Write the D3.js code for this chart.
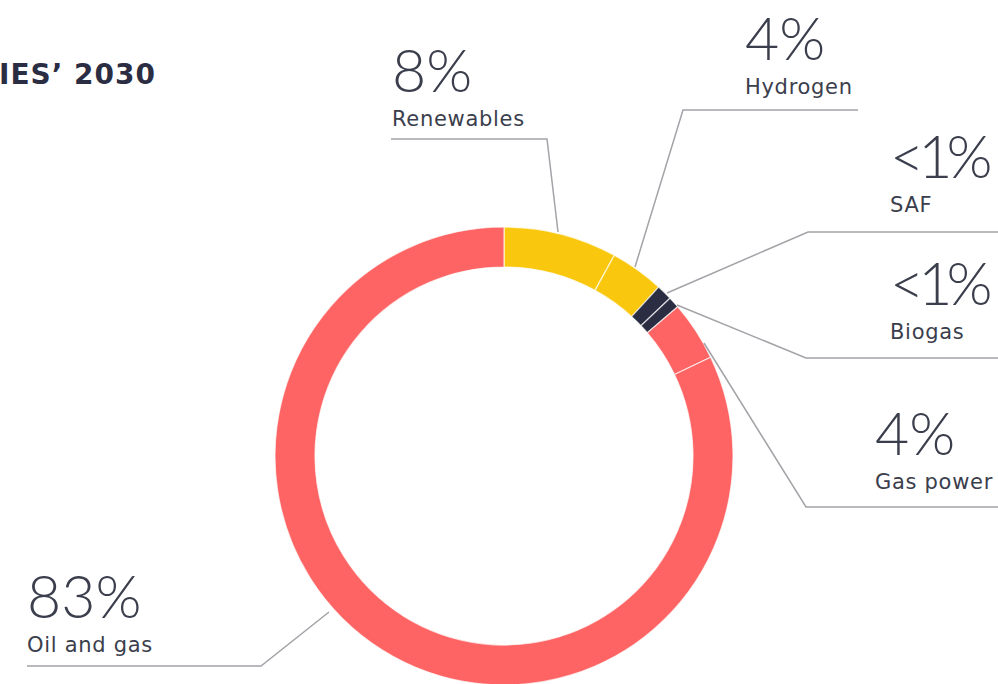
<!DOCTYPE html>
<meta charset="utf-8">
<style>
  body { margin: 0; background: #fff; }
  svg { display: block; }
  text { fill: #3b3e4c; }
  .num { font-family: "Lato", "Noto Sans", sans-serif; }
  .cat { font-family: "DejaVu Sans", sans-serif; }
</style>
<svg width="998" height="684"></svg>
<script src="https://d3js.org/d3.v7.min.js"></script>
<script>

var categories = ["Renewables", "Hydrogen", "SAF", "Biogas", "Gas power", "Oil and gas"],
    shares = [8, 3.8, 1.1, 0.8, 4.2, 82.1],
    pctLabels = ["8%", "4%", "<1%", "<1%", "4%", "83%"],
    colors = ["#f9c80e", "#f9c80e", "#2b2d42", "#2b2d42", "#ff6464", "#ff6464"];

// label anchor (left x, number baseline) and leader polyline for each slice
var labelPos = [[392, 92], [745, 60], [890, 178], [890, 305], [875, 455], [27, 618]];
var leaders = [
  [[391, 139], [547, 139], [558, 232]],
  [[858, 110], [683, 110], [635, 267]],
  [[998, 232], [808, 232], [667, 293]],
  [[998, 358], [806, 358], [677, 305]],
  [[998, 507], [806, 507], [704, 343]],
  [[27, 666], [261, 666], [329, 612]]
];

var svg = d3.select("svg"),
    cx = 504, cy = 456,
    outer = 229, inner = 189;

var pie = d3.pie().sort(null).value(function(d) { return d; });
var arc = d3.arc().innerRadius(inner).outerRadius(outer);

var g = svg.append("g").attr("transform", "translate(" + cx + "," + cy + ")");

g.selectAll("path")
    .data(pie(shares))
  .enter().append("path")
    .attr("d", arc)
    .attr("fill", function(d, i) { return colors[i]; })
    .attr("stroke", "#fff")
    .attr("stroke-opacity", 0.7)
    .attr("stroke-width", 1.2);

var line = d3.line();

svg.selectAll(".leader")
    .data(leaders)
  .enter().append("path")
    .attr("class", "leader")
    .attr("d", line)
    .attr("fill", "none")
    .attr("stroke", "#a3a3a8")
    .attr("stroke-width", 1.5);

var labels = svg.selectAll(".label")
    .data(categories)
  .enter().append("g")
    .attr("class", "label")
    .attr("transform", function(d, i) { return "translate(" + labelPos[i] + ")"; });

labels.append("text")
    .attr("class", "num")
    .attr("font-size", 59)
    .attr("font-weight", 300)
    .attr("letter-spacing", function(d, i) { return pctLabels[i].charAt(0) === "<" ? -6 : 0; })
    .text(function(d, i) { return pctLabels[i]; });

labels.append("text")
    .attr("class", "cat")
    .attr("y", 34)
    .attr("font-size", 21)
    .attr("letter-spacing", 0.7)
    .text(function(d) { return d; });

svg.append("text")
    .attr("x", 156)
    .attr("y", 84)
    .attr("text-anchor", "end")
    .attr("font-family", "DejaVu Sans, sans-serif")
    .attr("font-size", 28)
    .attr("font-weight", 700)
    .attr("letter-spacing", 1)
    .style("fill", "#2b2d42")
    .text("TECHNOLOGIES’ 2030");

</script>
